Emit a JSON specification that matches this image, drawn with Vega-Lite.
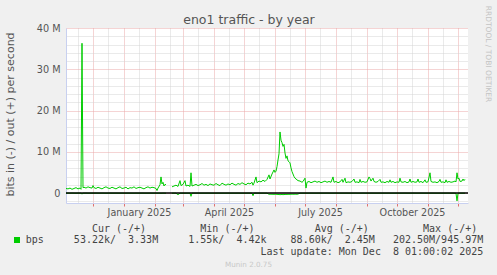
{
"$schema": "https://vega.github.io/schema/vega-lite/v6.json",
"width": 402,
"height": 175,
"autosize": {"type": "none"},
"padding": {"left": 66, "top": 28, "right": 29, "bottom": 72},
"background": "#f0f0f0",
"config": {"view": {"fill": "#ffffff", "stroke": null}, "font": "DejaVu Sans", "axis": {"labelFont": "DejaVu Sans", "titleFont": "DejaVu Sans", "titleFontWeight": "normal"}},
"data": {"values": [
{"t":"2024-11-04","o":1.1,"i":-0.05},{"t":"2024-11-06","o":1.0,"i":-0.04},{"t":"2024-11-08","o":1.2,"i":-0.05},{"t":"2024-11-10","o":0.9,"i":-0.03},{"t":"2024-11-12","o":1.1,"i":-0.05},{"t":"2024-11-14","o":1.3,"i":-0.06},{"t":"2024-11-16","o":1.0,"i":-0.04},{"t":"2024-11-18","o":1.2,"i":-0.05},{"t":"2024-11-19","o":0.9,"i":-0.05},{"t":"2024-11-20","o":36.3,"i":-0.25},{"t":"2024-11-21","o":1.3,"i":-0.05},{"t":"2024-11-22","o":1.4,"i":-0.05},{"t":"2024-11-24","o":1.2,"i":-0.04},{"t":"2024-11-26","o":1.5,"i":-0.06},{"t":"2024-11-28","o":1.3,"i":-0.05},{"t":"2024-11-30","o":1.2,"i":-0.04},
{"t":"2024-12-01","o":1.8,"i":-0.05},{"t":"2024-12-02","o":1.3,"i":-0.05},{"t":"2024-12-04","o":1.1,"i":-0.04},{"t":"2024-12-06","o":1.4,"i":-0.05},{"t":"2024-12-08","o":1.2,"i":-0.05},{"t":"2024-12-10","o":1.0,"i":-0.04},{"t":"2024-12-12","o":1.3,"i":-0.05},{"t":"2024-12-14","o":1.5,"i":-0.06},{"t":"2024-12-16","o":1.2,"i":-0.05},{"t":"2024-12-18","o":1.1,"i":-0.04},{"t":"2024-12-20","o":1.4,"i":-0.05},{"t":"2024-12-22","o":1.2,"i":-0.05},{"t":"2024-12-24","o":1.0,"i":-0.04},{"t":"2024-12-26","o":1.3,"i":-0.05},{"t":"2024-12-28","o":1.5,"i":-0.05},{"t":"2024-12-30","o":1.1,"i":-0.04},
{"t":"2025-01-01","o":1.2,"i":-0.05},{"t":"2025-01-03","o":1.4,"i":-0.05},{"t":"2025-01-05","o":1.0,"i":-0.04},{"t":"2025-01-07","o":1.3,"i":-0.05},{"t":"2025-01-09","o":1.2,"i":-0.05},{"t":"2025-01-11","o":1.5,"i":-0.06},{"t":"2025-01-13","o":1.1,"i":-0.04},{"t":"2025-01-15","o":1.3,"i":-0.05},{"t":"2025-01-17","o":1.4,"i":-0.05},{"t":"2025-01-19","o":1.2,"i":-0.04},{"t":"2025-01-21","o":1.0,"i":-0.05},{"t":"2025-01-23","o":1.3,"i":-0.05},{"t":"2025-01-25","o":1.5,"i":-0.05},{"t":"2025-01-27","o":1.2,"i":-0.04},{"t":"2025-01-29","o":1.4,"i":-0.05},{"t":"2025-01-31","o":1.3,"i":-0.05},
{"t":"2025-02-02","o":1.1,"i":-0.04},{"t":"2025-02-03","o":0.6,"i":-0.05},{"t":"2025-02-04","o":1.2,"i":-0.05},{"t":"2025-02-06","o":2.0,"i":-0.05},{"t":"2025-02-07","o":3.9,"i":-0.08},{"t":"2025-02-08","o":2.2,"i":-0.05},{"t":"2025-02-09","o":2.6,"i":-0.05},{"t":"2025-02-10","o":1.7,"i":-0.04},{"t":"2025-02-11","o":2.1,"i":-0.05},{"t":"2025-02-12","o":2.0,"i":-0.05},{"t":"2025-02-15","o":null,"i":null},{"t":"2025-02-18","o":1.5,"i":-0.05},{"t":"2025-02-20","o":1.7,"i":-0.05},{"t":"2025-02-22","o":1.9,"i":-0.05},{"t":"2025-02-24","o":1.6,"i":-0.4},{"t":"2025-02-26","o":3.0,"i":-0.05},{"t":"2025-02-27","o":1.8,"i":-0.05},
{"t":"2025-03-01","o":2.1,"i":-0.05},{"t":"2025-03-03","o":3.0,"i":-0.06},{"t":"2025-03-04","o":1.7,"i":-0.05},{"t":"2025-03-06","o":1.9,"i":-0.05},{"t":"2025-03-08","o":1.6,"i":-0.05},{"t":"2025-03-09","o":4.9,"i":-0.8},{"t":"2025-03-10","o":1.7,"i":-0.05},{"t":"2025-03-12","o":1.9,"i":-0.05},{"t":"2025-03-14","o":2.1,"i":-0.05},{"t":"2025-03-16","o":1.8,"i":-0.04},{"t":"2025-03-18","o":2.0,"i":-0.05},{"t":"2025-03-20","o":2.3,"i":-0.05},{"t":"2025-03-22","o":1.9,"i":-0.05},{"t":"2025-03-24","o":2.1,"i":-0.05},{"t":"2025-03-26","o":1.8,"i":-0.04},{"t":"2025-03-28","o":2.2,"i":-0.05},{"t":"2025-03-30","o":2.0,"i":-0.05},
{"t":"2025-04-01","o":1.9,"i":-0.05},{"t":"2025-04-03","o":2.3,"i":-0.05},{"t":"2025-04-05","o":2.0,"i":-0.04},{"t":"2025-04-07","o":1.8,"i":-0.05},{"t":"2025-04-09","o":2.4,"i":-0.05},{"t":"2025-04-11","o":2.1,"i":-0.05},{"t":"2025-04-13","o":1.9,"i":-0.05},{"t":"2025-04-15","o":2.2,"i":-0.04},{"t":"2025-04-17","o":2.0,"i":-0.05},{"t":"2025-04-19","o":2.4,"i":-0.05},{"t":"2025-04-21","o":2.1,"i":-0.05},{"t":"2025-04-23","o":1.9,"i":-0.05},{"t":"2025-04-25","o":2.3,"i":-0.04},{"t":"2025-04-27","o":2.1,"i":-0.05},{"t":"2025-04-29","o":2.5,"i":-0.05},
{"t":"2025-05-01","o":2.2,"i":-0.05},{"t":"2025-05-03","o":2.0,"i":-0.05},{"t":"2025-05-05","o":2.4,"i":-0.04},{"t":"2025-05-07","o":2.2,"i":-0.05},{"t":"2025-05-09","o":2.6,"i":-0.05},{"t":"2025-05-10","o":1.9,"i":-0.65},{"t":"2025-05-11","o":2.4,"i":-0.05},{"t":"2025-05-13","o":3.9,"i":-0.05},{"t":"2025-05-14","o":2.5,"i":-0.05},{"t":"2025-05-16","o":2.9,"i":-0.05},{"t":"2025-05-18","o":2.7,"i":-0.05},{"t":"2025-05-20","o":3.1,"i":-0.05},{"t":"2025-05-22","o":2.8,"i":-0.05},{"t":"2025-05-24","o":3.3,"i":-0.05},{"t":"2025-05-26","o":4.4,"i":-0.3},{"t":"2025-05-27","o":3.4,"i":-0.28},{"t":"2025-05-29","o":4.6,"i":-0.3},{"t":"2025-05-31","o":5.6,"i":-0.32},
{"t":"2025-06-01","o":5.0,"i":-0.3},{"t":"2025-06-02","o":5.3,"i":-0.3},{"t":"2025-06-03","o":6.4,"i":-0.33},{"t":"2025-06-04","o":8.0,"i":-0.35},{"t":"2025-06-05","o":9.5,"i":-0.36},{"t":"2025-06-06","o":14.8,"i":-0.4},{"t":"2025-06-07","o":12.8,"i":-0.38},{"t":"2025-06-08","o":12.2,"i":-0.35},{"t":"2025-06-09","o":11.3,"i":-0.4},{"t":"2025-06-10","o":11.8,"i":-0.36},{"t":"2025-06-11","o":9.7,"i":-0.35},{"t":"2025-06-12","o":8.4,"i":-0.32},{"t":"2025-06-13","o":9.0,"i":-0.35},{"t":"2025-06-14","o":7.8,"i":-0.3},{"t":"2025-06-15","o":7.6,"i":-0.33},{"t":"2025-06-16","o":7.3,"i":-0.3},{"t":"2025-06-17","o":6.1,"i":-0.3},{"t":"2025-06-18","o":5.2,"i":-0.28},{"t":"2025-06-20","o":4.0,"i":-0.3},{"t":"2025-06-21","o":3.6,"i":-0.27},{"t":"2025-06-23","o":3.2,"i":-0.3},{"t":"2025-06-24","o":3.0,"i":-0.25},{"t":"2025-06-26","o":2.9,"i":-0.05},{"t":"2025-06-28","o":2.6,"i":-0.05},{"t":"2025-06-29","o":2.8,"i":-0.05},
{"t":"2025-07-01","o":3.6,"i":-0.05},{"t":"2025-07-02","o":1.2,"i":-0.05},{"t":"2025-07-03","o":2.6,"i":-0.05},{"t":"2025-07-05","o":2.8,"i":-0.05},{"t":"2025-07-07","o":2.5,"i":-0.04},{"t":"2025-07-09","o":2.7,"i":-0.05},{"t":"2025-07-11","o":2.9,"i":-0.05},{"t":"2025-07-13","o":2.6,"i":-0.05},{"t":"2025-07-15","o":2.8,"i":-0.04},{"t":"2025-07-17","o":2.5,"i":-0.05},{"t":"2025-07-19","o":2.7,"i":-0.05},{"t":"2025-07-21","o":2.9,"i":-0.05},{"t":"2025-07-23","o":2.6,"i":-0.04},{"t":"2025-07-25","o":2.8,"i":-0.05},{"t":"2025-07-27","o":2.6,"i":-0.05},{"t":"2025-07-29","o":3.9,"i":-0.05},{"t":"2025-07-30","o":2.6,"i":-0.05},
{"t":"2025-08-01","o":2.8,"i":-0.04},{"t":"2025-08-03","o":2.5,"i":-0.05},{"t":"2025-08-05","o":2.7,"i":-0.05},{"t":"2025-08-07","o":3.3,"i":-0.05},{"t":"2025-08-08","o":2.6,"i":-0.05},{"t":"2025-08-10","o":3.6,"i":-0.05},{"t":"2025-08-11","o":2.5,"i":-0.04},{"t":"2025-08-13","o":2.7,"i":-0.05},{"t":"2025-08-15","o":2.6,"i":-0.05},{"t":"2025-08-17","o":2.8,"i":-0.05},{"t":"2025-08-19","o":3.4,"i":-0.05},{"t":"2025-08-20","o":2.6,"i":-0.04},{"t":"2025-08-22","o":2.7,"i":-0.05},{"t":"2025-08-24","o":2.5,"i":-0.05},{"t":"2025-08-25","o":3.3,"i":-0.05},{"t":"2025-08-26","o":2.6,"i":-0.05},{"t":"2025-08-28","o":2.8,"i":-0.04},{"t":"2025-08-30","o":2.6,"i":-0.05},
{"t":"2025-09-01","o":2.7,"i":-0.05},{"t":"2025-09-03","o":3.9,"i":-0.05},{"t":"2025-09-04","o":3.5,"i":-0.05},{"t":"2025-09-05","o":2.9,"i":-0.04},{"t":"2025-09-07","o":3.6,"i":-0.05},{"t":"2025-09-08","o":2.8,"i":-0.05},{"t":"2025-09-10","o":2.6,"i":-0.05},{"t":"2025-09-12","o":2.8,"i":-0.05},{"t":"2025-09-14","o":3.3,"i":-0.04},{"t":"2025-09-15","o":2.6,"i":-0.05},{"t":"2025-09-17","o":2.7,"i":-0.05},{"t":"2025-09-19","o":2.5,"i":-0.05},{"t":"2025-09-21","o":2.8,"i":-0.05},{"t":"2025-09-23","o":2.6,"i":-0.04},{"t":"2025-09-24","o":3.2,"i":-0.05},{"t":"2025-09-25","o":2.6,"i":-0.05},{"t":"2025-09-27","o":2.8,"i":-0.05},{"t":"2025-09-29","o":2.5,"i":-0.05},
{"t":"2025-10-01","o":2.7,"i":-0.04},{"t":"2025-10-03","o":2.6,"i":-0.05},{"t":"2025-10-04","o":3.6,"i":-0.05},{"t":"2025-10-05","o":2.7,"i":-0.05},{"t":"2025-10-07","o":2.6,"i":-0.05},{"t":"2025-10-09","o":2.8,"i":-0.04},{"t":"2025-10-11","o":2.5,"i":-0.05},{"t":"2025-10-13","o":2.7,"i":-0.05},{"t":"2025-10-14","o":3.4,"i":-0.05},{"t":"2025-10-15","o":2.6,"i":-0.05},{"t":"2025-10-17","o":2.8,"i":-0.04},{"t":"2025-10-19","o":2.6,"i":-0.05},{"t":"2025-10-21","o":2.7,"i":-0.05},{"t":"2025-10-22","o":3.4,"i":-0.05},{"t":"2025-10-23","o":2.6,"i":-0.05},{"t":"2025-10-25","o":2.8,"i":-0.04},{"t":"2025-10-27","o":2.5,"i":-0.05},{"t":"2025-10-29","o":3.2,"i":-0.05},{"t":"2025-10-30","o":2.6,"i":-0.05},
{"t":"2025-11-01","o":2.7,"i":-0.05},{"t":"2025-11-03","o":4.9,"i":-0.05},{"t":"2025-11-04","o":2.8,"i":-0.04},{"t":"2025-11-06","o":2.6,"i":-0.05},{"t":"2025-11-08","o":2.7,"i":-0.05},{"t":"2025-11-10","o":2.5,"i":-0.05},{"t":"2025-11-12","o":2.8,"i":-0.05},{"t":"2025-11-13","o":3.3,"i":-0.04},{"t":"2025-11-14","o":2.6,"i":-0.05},{"t":"2025-11-16","o":2.7,"i":-0.05},{"t":"2025-11-18","o":2.5,"i":-0.05},{"t":"2025-11-19","o":3.2,"i":-0.05},{"t":"2025-11-20","o":2.6,"i":-0.04},{"t":"2025-11-22","o":2.8,"i":-0.05},{"t":"2025-11-24","o":2.6,"i":-0.05},{"t":"2025-11-26","o":2.7,"i":-0.05},{"t":"2025-11-28","o":2.9,"i":-0.05},{"t":"2025-11-29","o":2.7,"i":-0.1},{"t":"2025-11-30","o":4.9,"i":-1.9},
{"t":"2025-12-01","o":3.4,"i":-0.1},{"t":"2025-12-02","o":3.6,"i":-0.05},{"t":"2025-12-03","o":2.8,"i":-0.05},{"t":"2025-12-05","o":2.9,"i":-0.05},{"t":"2025-12-06","o":3.4,"i":-0.05},{"t":"2025-12-07","o":3.0,"i":-0.05},{"t":"2025-12-08","o":3.33,"i":-0.05}
]},
"layer": [
{
"mark": {"type": "line", "strokeWidth": 1, "invalid": "break-paths-show-domains"},
"encoding": {
"x": {"field": "t", "type": "temporal",
 "scale": {"type": "utc", "domain": [{"year": 2024, "month": 11, "date": 4, "utc": true}, {"year": 2025, "month": 12, "date": 11, "utc": true}]},
 "axis": {"orient": "bottom",
  "values": [{"year":2024,"month":12,"date":1,"utc":true},{"year":2025,"month":1,"date":1,"utc":true},{"year":2025,"month":2,"date":1,"utc":true},{"year":2025,"month":3,"date":1,"utc":true},{"year":2025,"month":4,"date":1,"utc":true},{"year":2025,"month":5,"date":1,"utc":true},{"year":2025,"month":6,"date":1,"utc":true},{"year":2025,"month":7,"date":1,"utc":true},{"year":2025,"month":8,"date":1,"utc":true},{"year":2025,"month":9,"date":1,"utc":true},{"year":2025,"month":10,"date":1,"utc":true},{"year":2025,"month":11,"date":1,"utc":true},{"year":2025,"month":12,"date":1,"utc":true}],
  "grid": true, "gridColor": "#eaa8a8", "gridDash": [1, 1], "gridWidth": 1,
  "ticks": true, "tickColor": "#e07070", "tickSize": 3, "tickWidth": 1,
  "labels": false,
  "domain": true, "domainColor": "#c8d0f0", "domainWidth": 1,
  "title": "Munin 2.0.75", "titleFont": "DejaVu Sans", "titleFontSize": 7.2, "titleColor": "#c8c8c8", "titleFontWeight": "normal",
  "titleX": 182, "titleY": 63.7, "titleAlign": "center", "titleBaseline": "alphabetic"}},
"y": {"field": "o", "type": "quantitative",
 "scale": {"domain": [-2.42, 40], "nice": false, "zero": false},
 "axis": {"orient": "left", "values": [0, 10, 20, 30, 40],
  "grid": true, "gridColor": "#eaa8a8", "gridDash": [1, 1], "gridWidth": 1,
  "ticks": false, "domain": true, "domainColor": "#c8d0f0", "domainWidth": 1,
  "labelExpr": "datum.value == 0 ? '0\u00a0\u00a0' : datum.value + ' M'",
  "labelFont": "DejaVu Sans", "labelFontSize": 9.7, "labelColor": "#555555", "labelPadding": 6,
  "title": "bits in (-) / out (+) per second", "titleFont": "DejaVu Sans", "titleFontSize": 11, "titleColor": "#555555", "titleFontWeight": "normal",
  "titleAngle": 270, "titleX": -56, "titleY": 86, "titleAlign": "center", "titleBaseline": "middle"}},
"color": {"datum": "bps", "scale": {"range": ["#00cc00"]},
 "legend": {"orient": "none", "legendX": -52, "legendY": 209, "title": null, "padding": 0,
  "symbolType": "square", "symbolSize": 36, "symbolFillColor": "#00cc00", "symbolStrokeColor": "#00cc00", "symbolStrokeWidth": 0, "symbolOffset": 0,
  "labelExpr": "''", "labelFontSize": 6}}
}
},
{
"mark": {"type": "line", "strokeWidth": 1, "color": "#00cc00", "invalid": "break-paths-show-domains"},
"encoding": {
"x": {"field": "t", "type": "temporal",
 "axis": {"orient": "bottom",
  "values": [{"year":2024,"month":11,"date":16,"utc":true},{"year":2024,"month":12,"date":16,"utc":true},{"year":2025,"month":1,"date":16,"utc":true},{"year":2025,"month":2,"date":16,"utc":true},{"year":2025,"month":3,"date":16,"utc":true},{"year":2025,"month":4,"date":16,"utc":true},{"year":2025,"month":5,"date":16,"utc":true},{"year":2025,"month":6,"date":16,"utc":true},{"year":2025,"month":7,"date":16,"utc":true},{"year":2025,"month":8,"date":16,"utc":true},{"year":2025,"month":9,"date":16,"utc":true},{"year":2025,"month":10,"date":16,"utc":true},{"year":2025,"month":11,"date":16,"utc":true}],
  "grid": true, "gridColor": "#d4d4d4", "gridDash": [1, 1], "gridWidth": 1,
  "ticks": false, "domain": false,
  "labelExpr": "utcmonth(datum.value) % 3 == 0 ? utcFormat(datum.value, '%B %Y') : ''",
  "labelFont": "DejaVu Sans", "labelFontSize": 9.6, "labelColor": "#555555",
  "labelBaseline": "alphabetic", "labelPadding": 12.7, "labelOverlap": false, "labelBound": false, "labelFlush": false,
  "title": [
   "\u200b\u00a0\u00a0\u00a0\u00a0\u00a0\u00a0\u00a0\u00a0\u00a0\u00a0\u00a0Cur\u00a0(-/+)\u00a0\u00a0\u00a0\u00a0\u00a0\u00a0\u00a0\u00a0\u00a0Min\u00a0(-/+)\u00a0\u00a0\u00a0\u00a0\u00a0\u00a0\u00a0\u00a0\u00a0\u00a0Avg\u00a0(-/+)\u00a0\u00a0\u00a0\u00a0\u00a0\u00a0\u00a0\u00a0\u00a0Max\u00a0(-/+)",
   "bps\u00a0\u00a0\u00a0\u00a0\u00a053.22k/\u00a0\u00a03.33M\u00a0\u00a0\u00a0\u00a0\u00a01.55k/\u00a0\u00a04.42k\u00a0\u00a0\u00a0\u00a088.60k/\u00a0\u00a02.45M\u00a0\u00a0\u00a0202.50M/945.97M",
   "\u200b\u00a0\u00a0\u00a0\u00a0\u00a0\u00a0\u00a0\u00a0\u00a0\u00a0\u00a0\u00a0\u00a0\u00a0\u00a0\u00a0\u00a0\u00a0\u00a0\u00a0\u00a0\u00a0\u00a0\u00a0\u00a0\u00a0\u00a0\u00a0\u00a0\u00a0\u00a0\u00a0\u00a0\u00a0\u00a0\u00a0\u00a0\u00a0\u00a0Last\u00a0update:\u00a0Mon\u00a0Dec\u00a0\u00a08\u00a001:00:02\u00a02025"
  ],
  "titleFont": "DejaVu Sans Mono", "titleFontSize": 10, "titleColor": "#444444", "titleFontWeight": "normal",
  "titleX": -40.8, "titleY": 20, "titleAlign": "left", "titleBaseline": "top", "titleLineHeight": 11.65}},
"y": {"field": "i", "type": "quantitative",
 "axis": {"orient": "left",
  "values": [-2, 2, 4, 6, 8, 12, 14, 16, 18, 22, 24, 26, 28, 32, 34, 36, 38],
  "grid": true, "gridColor": "#d4d4d4", "gridDash": [1, 1], "gridWidth": 1,
  "ticks": false, "labels": false, "domain": false,
  "title": "eno1 traffic - by year", "titleFont": "DejaVu Sans", "titleFontSize": 12.5, "titleColor": "#555555", "titleFontWeight": "normal",
  "titleAngle": 0, "titleX": 182.5, "titleY": -4.7, "titleAlign": "center", "titleBaseline": "alphabetic"}}
}
},
{
"data": {"values": [{}]},
"mark": {"type": "rule", "color": "#000000", "strokeWidth": 1.5},
"encoding": {
"y": {"datum": 0, "type": "quantitative",
 "axis": {"orient": "right", "grid": false, "ticks": false, "labels": false, "domain": false,
  "title": "RRDTOOL / TOBI OETIKER", "titleFont": "DejaVu Sans", "titleFontSize": 7.5, "titleColor": "#c4c4c4", "titleFontWeight": "normal",
  "titleAngle": 90, "titleX": 19, "titleY": 25.5, "titleAlign": "center", "titleBaseline": "middle"}}
}
}
],
"resolve": {"scale": {"x": "shared", "y": "shared"}, "axis": {"x": "independent", "y": "independent"}}
}
